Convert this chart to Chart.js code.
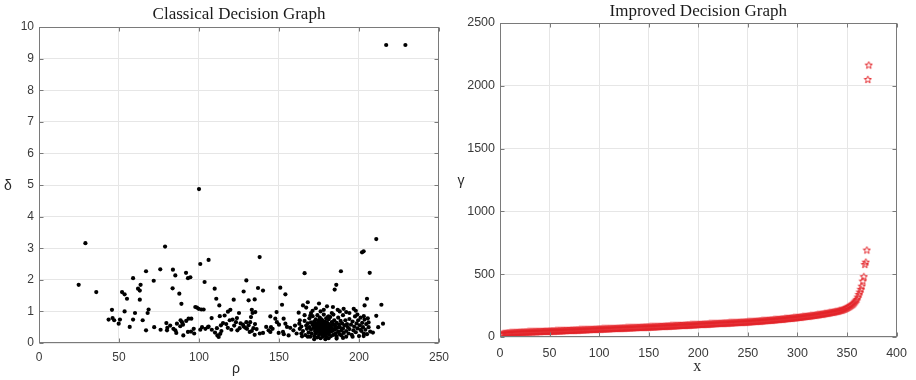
<!DOCTYPE html>
<html>
<head>
<meta charset="utf-8">
<title>Decision Graphs</title>
<script src="https://cdn.jsdelivr.net/npm/chart.js@4.4.0/dist/chart.umd.min.js"></script>
<style>
  body { margin: 0; background: #fff; width: 916px; height: 380px; overflow: hidden; position: relative; }
  canvas { position: absolute; top: 0; }
  #classical { left: 0; }
  #improved { left: 456px; }
</style>
</head>
<body>
<canvas id="classical" width="456" height="380"></canvas>
<canvas id="improved" width="460" height="380"></canvas>
<script>
// ---- data ----
// Classical decision graph: local density rho vs distance delta
const classicalRho = [
  217, 229, 100,
  29, 24.8, 35.8, 45.6, 43.5, 46, 49.8, 50.6, 51.9, 53.5,
  55, 53.5, 56.7, 58.8, 58.8, 61.9, 63, 63.5, 63, 64.8,
  66.9, 66.9, 67.9, 68.5, 71.7, 75.8, 78.8, 79.6, 80.2, 80,
  83.7, 83.5, 85.2, 85.2, 85.8, 87.7, 86.2, 88.3, 88.5, 89,
  89.4, 90.2, 91.9, 93.1, 93.5, 93.1, 94.6, 95.2, 96.7, 97.7,
  98.7, 99.8, 100.8, 100.8, 101.5, 102.9, 103.5, 101.9, 106, 105.6,
  107.9, 109.8, 110.8, 111.2, 111.5, 112.3, 112.7, 113.3, 113.7, 115,
  116, 118.1, 119.2, 119.6, 120.2, 121.7, 123.1, 123.7, 125.4, 127.5,
  127.9, 129, 129.6, 129.6, 131, 131.7, 132, 132.5, 133, 133.5,
  134, 134.8, 135.2, 134.8, 136.9, 137.9, 140, 142, 143.5, 144.6,
  144.6, 147.7, 148.5, 148.7, 149.8, 150.8, 151.9, 152.5, 152.9, 154,
  154, 155, 156, 162.3, 162.7, 164.4, 165, 166, 167, 168,
  169.6, 180, 181, 183.7, 184.8, 185.8, 186.7, 188.7, 190.4, 196.7,
  201.9, 202.9, 203.5, 205, 206.7, 210.8, 210.8, 214, 215, 212,
  208.7, 202.9,
  82, 84, 90, 92, 95, 97, 104, 106, 108, 110,
  114, 117, 118, 121, 122, 124, 126, 128, 130, 131,
  133, 135, 136, 138, 145, 146, 150, 153, 157, 159,
  160, 161, 163, 47, 60, 72, 76, 113, 125, 140,
  164, 165, 166, 166.5, 167, 167.5, 168, 168.5, 169, 169,
  169.5, 170, 170, 170.5, 171, 171, 171.5, 172, 172, 172.5,
  172.5, 173, 173, 173.5, 173.5, 174, 174, 174, 174.5, 174.5,
  175, 175, 175, 175.5, 175.5, 176, 176, 176, 176.5, 176.5,
  177, 177, 177, 177.5, 177.5, 178, 178, 178, 178.5, 178.5,
  179, 179, 179, 179.5, 179.5, 180, 180, 180, 180.5, 181,
  181, 181, 181.5, 182, 182, 182, 182.5, 183, 183, 183.5,
  184, 184, 184.5, 185, 185, 185.5, 186, 186, 186.5, 187,
  187, 187.5, 188, 188, 188.5, 189, 189, 189.5, 190, 190,
  190.5, 191, 191.5, 192, 192, 192.5, 193, 193.5, 194, 194,
  195, 195.5, 196, 196.5, 197, 197.5, 198, 198.5, 199, 199.5,
  200, 200.5, 201, 201.5, 202, 202.5, 203, 203.5, 204, 204.5,
  205, 205.5, 206, 207, 171, 173, 175, 178, 183, 188,
  192, 198, 163, 164, 166, 168, 170, 172, 176, 179,
  181, 184, 186, 190, 194, 196, 199, 201, 203, 206,
  174.5, 175.5, 176.5, 177.5, 178.5, 179.5, 180.5, 181.5, 182.5, 183.5,
  172, 173, 174, 175, 176, 177, 178, 179, 180, 185
];
const classicalDelta = [
  9.43, 9.43, 4.87,
  3.16, 1.84, 1.61, 1.05, 0.74, 0.79, 0.61, 0.74, 1.61, 1.54,
  1.40, 1.0, 0.51, 2.05, 0.74, 1.72, 1.66, 1.84, 1.37, 0.72,
  0.4, 2.27, 0.95, 1.06, 1.97, 2.33, 3.05, 0.63, 0.48, 0.4,
  2.32, 1.73, 2.14, 0.4, 0.32, 1.56, 0.61, 0.53, 0.72, 1.24,
  0.66, 0.24, 2.22, 2.05, 0.77, 0.35, 2.08, 0.77, 0.45, 1.14,
  1.12, 1.08, 2.5, 0.42, 1.06, 1.06, 1.93, 0.5, 2.63, 0.5,
  0.79, 1.72, 1.4, 0.47, 0.24, 0.19, 1.19, 0.29, 0.56, 0.63,
  0.87, 0.99, 0.72, 1.05, 0.42, 1.37, 0.66, 0.79, 0.47, 0.58,
  1.63, 0.48, 1.98, 0.66, 1.35, 0.35, 0.66, 0.82, 1.05, 0.95,
  0.47, 1.38, 0.98, 0.26, 1.74, 2.72, 1.66, 0.51, 0.4, 0.35,
  0.84, 0.77, 0.98, 0.66, 0.32, 1.75, 1.21, 0.35, 0.77, 1.54,
  0.61, 0.51, 0.24, 0.96, 0.61, 0.21, 1.19, 2.21, 1.12, 1.29,
  0.87, 1.16, 0.84, 1.14, 1.69, 1.84, 1.05, 2.27, 1.08, 1.08,
  2.87, 2.9, 1.19, 1.4, 2.22, 3.29, 0.86, 1.21, 0.61, 0.5,
  0.33, 0.22,
  0.55, 0.45, 0.58, 0.7, 0.36, 0.3, 0.45, 0.52, 0.42, 0.33,
  0.38, 0.6, 0.48, 0.74, 0.55, 0.4, 0.62, 0.52, 0.45, 0.56,
  0.38, 0.6, 0.44, 0.3, 0.5, 0.45, 0.58, 0.28, 0.48, 0.4,
  0.55, 0.3, 0.45, 0.72, 0.95, 0.5, 0.42, 0.85, 0.95, 0.32,
  0.52, 0.38, 0.7, 0.25, 0.55, 0.45, 0.62, 0.33, 0.78, 0.5,
  0.2, 0.65, 0.42, 0.3, 0.58, 0.85, 0.48, 0.22, 0.68, 0.38,
  0.55, 0.75, 0.3, 0.62, 0.45, 0.18, 0.52, 0.88, 0.35, 0.7,
  0.42, 0.6, 0.25, 0.5, 0.8, 0.33, 0.65, 0.15, 0.45, 0.58,
  0.28, 0.72, 0.4, 0.55, 0.2, 0.62, 0.35, 0.9, 0.48, 0.68,
  0.25, 0.56, 0.42, 0.78, 0.32, 0.5, 0.18, 0.65, 0.4, 0.6,
  0.28, 0.75, 0.45, 0.35, 0.55, 0.82, 0.22, 0.48, 0.66, 0.38,
  0.58, 0.26, 0.72, 0.42, 0.55, 0.3, 0.64, 0.2, 0.48, 0.8,
  0.36, 0.58, 0.28, 0.5, 0.7, 0.4, 0.24, 0.62, 0.46, 0.88,
  0.32, 0.56, 0.72, 0.38, 0.2, 0.6, 0.5, 0.3, 0.76, 0.44,
  0.58, 0.26, 0.68, 0.4, 0.52, 0.84, 0.34, 0.62, 0.46, 0.72,
  0.22, 0.56, 0.8, 0.38, 0.64, 0.5, 0.3, 0.74, 0.42, 0.6,
  0.28, 0.78, 0.5, 0.36, 1.02, 1.1, 1.25, 1.05, 0.95, 1.0,
  0.98, 1.02, 0.72, 0.3, 0.88, 0.2, 0.95, 0.12, 1.0, 0.12,
  0.15, 0.9, 0.14, 0.16, 0.95, 0.2, 0.9, 0.42, 0.85, 0.65,
  0.62, 0.37, 0.75, 0.47, 0.27, 0.6, 0.82, 0.52, 0.42, 0.62,
  0.48, 0.58, 0.4, 0.7, 0.52, 0.6, 0.44, 0.66, 0.36, 0.46
];
const classicalXTicks = [0, 50, 100, 150, 200, 250];
const classicalYTicks = [0, 1, 2, 3, 4, 5, 6, 7, 8, 9, 10];

// Improved decision graph: sorted gamma values, one per sample (x = 1..372)
const improvedGamma = [
  18, 22, 25, 27, 28, 29, 30, 31, 31, 32,
  33, 33, 34, 34, 35, 35, 36, 36, 37, 37,
  37, 38, 38, 38, 39, 39, 39, 40, 40, 40,
  41, 41, 41, 42, 42, 42, 42, 43, 43, 43,
  43, 44, 44, 44, 45, 45, 45, 45, 46, 46,
  46, 47, 47, 47, 47, 48, 48, 48, 49, 49,
  49, 50, 50, 50, 51, 51, 51, 52, 52, 52,
  53, 53, 53, 54, 54, 54, 55, 55, 55, 56,
  56, 56, 57, 57, 57, 58, 58, 58, 59, 59,
  59, 60, 60, 60, 61, 61, 61, 62, 62, 63,
  63, 63, 64, 64, 64, 65, 65, 65, 66, 66,
  66, 67, 67, 67, 68, 68, 68, 69, 69, 69,
  70, 70, 70, 71, 71, 71, 72, 72, 72, 73,
  73, 73, 74, 74, 74, 75, 75, 75, 76, 76,
  76, 77, 77, 77, 78, 78, 78, 79, 79, 79,
  80, 80, 80, 81, 81, 81, 82, 82, 82, 83,
  83, 84, 84, 84, 85, 85, 86, 86, 86, 87,
  87, 88, 88, 88, 89, 89, 90, 90, 90, 91,
  91, 92, 92, 92, 93, 93, 94, 94, 95, 95,
  95, 96, 96, 97, 97, 97, 98, 98, 99, 99,
  100, 100, 100, 101, 101, 102, 102, 102, 103, 103,
  104, 104, 104, 105, 105, 106, 106, 106, 107, 107,
  108, 108, 108, 109, 109, 110, 110, 110, 111, 111,
  112, 112, 112, 113, 113, 114, 114, 114, 115, 115,
  116, 116, 117, 117, 117, 118, 118, 119, 119, 120,
  120, 121, 121, 122, 122, 123, 124, 124, 125, 125,
  126, 127, 127, 128, 128, 129, 130, 130, 131, 132,
  132, 133, 134, 134, 135, 136, 136, 137, 138, 139,
  139, 140, 141, 142, 142, 143, 144, 145, 146, 147,
  147, 148, 149, 150, 151, 152, 152, 153, 154, 155,
  156, 157, 158, 159, 160, 161, 162, 163, 164, 165,
  166, 167, 168, 169, 170, 171, 172, 174, 175, 176,
  177, 178, 180, 181, 182, 183, 185, 186, 187, 189,
  190, 192, 193, 195, 196, 198, 199, 201, 202, 204,
  206, 208, 210, 212, 214, 217, 220, 223, 227, 231,
  235, 240, 245, 250, 256, 262, 270, 279, 289, 300,
  318, 338, 358, 380, 405, 445, 480, 577, 596, 692,
  2050, 2165
];
const improvedXTicks = [0, 50, 100, 150, 200, 250, 300, 350, 400];
const improvedYTicks = [0, 500, 1000, 1500, 2000, 2500];

// ---- look ----
const tickColor = '#3a3a3a';
const gridColor = '#e6e6e6';
const boxColor = '#7a7a7a';
const starRed = '#e3262b';

// pentagram marker (matlab 'p'), drawn once on a small canvas
const starImg = document.createElement('canvas');
starImg.width = 9; starImg.height = 9;
{
  const c = starImg.getContext('2d');
  c.strokeStyle = starRed;
  c.lineWidth = 1;
  c.beginPath();
  for (let k = 0; k < 10; k++) {
    const r = k % 2 === 0 ? 3.8 : 1.6;
    const a = -Math.PI / 2 + k * Math.PI / 5;
    const px = 4.5 + r * Math.cos(a), py = 4.7 + r * Math.sin(a);
    k === 0 ? c.moveTo(px, py) : c.lineTo(px, py);
  }
  c.closePath();
  c.stroke();
}

// box, inward ticks and all the labels matlab puts around the axes
const frame = (cfg) => ({
  id: 'frame',
  afterDraw(chart) {
    const { ctx, chartArea: a, scales } = chart;
    const L = Math.round(a.left) + 0.5, R = Math.round(a.right) - 0.5;
    const T = Math.round(a.top) + 0.5, B = Math.round(a.bottom) - 0.5;
    ctx.save();
    ctx.strokeStyle = boxColor;
    ctx.lineWidth = 1;
    ctx.strokeRect(L, T, R - L, B - T);
    ctx.beginPath();
    cfg.xTicks.forEach(v => {
      const x = Math.round(scales.x.getPixelForValue(v)) + 0.5;
      ctx.moveTo(x, B); ctx.lineTo(x, B - 4);
      ctx.moveTo(x, T); ctx.lineTo(x, T + 4);
    });
    cfg.yTicks.forEach(v => {
      const y = Math.round(scales.y.getPixelForValue(v)) + 0.5;
      ctx.moveTo(L, y); ctx.lineTo(L + 4, y);
      ctx.moveTo(R, y); ctx.lineTo(R - 4, y);
    });
    ctx.stroke();

    ctx.fillStyle = '#1a1a1a';
    ctx.textAlign = 'center';
    ctx.textBaseline = 'middle';
    ctx.font = '17px "Liberation Serif"';
    ctx.fillText(cfg.title, (a.left + a.right) / 2, cfg.titleY);
    ctx.fillStyle = '#2a2a2a';
    ctx.font = cfg.xLabelFont;
    ctx.fillText(cfg.xLabel, (a.left + a.right) / 2 + cfg.xLabelShift, cfg.xLabelY);
    ctx.font = cfg.yLabelFont;
    ctx.fillText(cfg.yLabel, cfg.yLabelX, cfg.yLabelY);
    ctx.restore();
  }
});

const axisOpts = (min, max, ticksArr, fitFn, pad, fontSize) => ({
  type: 'linear',
  min: min, max: max,
  afterBuildTicks: axis => { axis.ticks = ticksArr.map(v => ({ value: v })); },
  afterFit: fitFn,
  grid: { color: gridColor, drawTicks: false },
  border: { display: false },
  ticks: {
    padding: pad,
    font: { family: 'Liberation Sans', size: fontSize },
    color: tickColor,
    maxRotation: 0,
    autoSkip: false,
    callback: v => String(v)
  }
});

// ---- classical ----
new Chart(document.getElementById('classical'), {
  type: 'scatter',
  data: {
    datasets: [{
      data: classicalRho.map((r, i) => ({ x: r, y: classicalDelta[i] })),
      backgroundColor: '#000',
      borderColor: '#000',
      borderWidth: 0,
      pointRadius: 2.1
    }]
  },
  options: {
    responsive: false,
    animation: false,
    layout: { padding: { top: 27, right: 17, left: 0, bottom: 0 } },
    plugins: { legend: { display: false }, tooltip: { enabled: false } },
    scales: {
      x: axisOpts(0, 250, classicalXTicks, s => { s.height = 37; }, 7, 12),
      y: axisOpts(0, 10, classicalYTicks, s => { s.width = 39; }, 5, 12)
    }
  },
  plugins: [frame({
    xTicks: classicalXTicks, yTicks: classicalYTicks,
    title: 'Classical Decision Graph', titleY: 15,
    xLabel: 'ρ', xLabelFont: '14px "Liberation Sans"', xLabelY: 369, xLabelShift: -3,
    yLabel: 'δ', yLabelFont: '14px "Liberation Sans"', yLabelX: 8, yLabelY: 186
  })]
});

// ---- improved ----
new Chart(document.getElementById('improved'), {
  type: 'scatter',
  data: {
    datasets: [{
      data: improvedGamma.map((g, i) => ({ x: i + 1, y: g })),
      pointStyle: starImg,
      pointRadius: 4
    }]
  },
  options: {
    responsive: false,
    animation: false,
    layout: { padding: { top: 23, right: 17, left: 0, bottom: 0 } },
    plugins: { legend: { display: false }, tooltip: { enabled: false } },
    scales: {
      x: axisOpts(0, 400, improvedXTicks, s => { s.height = 43; }, 9, 12.5),
      y: axisOpts(0, 2500, improvedYTicks, s => { s.width = 44; }, 5, 12.5)
    }
  },
  plugins: [frame({
    xTicks: improvedXTicks, yTicks: improvedYTicks,
    title: 'Improved Decision Graph', titleY: 12,
    xLabel: 'x', xLabelFont: '16px "Liberation Serif"', xLabelY: 367, xLabelShift: -1,
    yLabel: 'γ', yLabelFont: '14px "Liberation Sans"', yLabelX: 5, yLabelY: 181
  })]
});
</script>
</body>
</html>
